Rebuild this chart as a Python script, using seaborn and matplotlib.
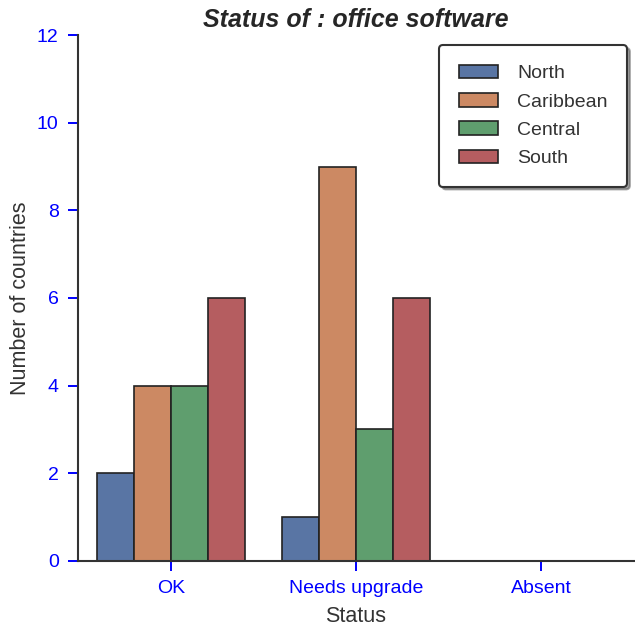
import pandas as pd
import matplotlib.pyplot as plt
import seaborn as sns

# data
statuses = ["OK", "Needs upgrade", "Absent"]
regions = ["North", "Caribbean", "Central", "South"]
north = [2, 1, 0]
caribbean = [4, 9, 0]
central = [4, 3, 0]
south = [6, 6, 0]

rows = []
for region, vals in zip(regions, [north, caribbean, central, south]):
    for status, v in zip(statuses, vals):
        rows.append({"Status": status, "Region": region, "Count": v})
df = pd.DataFrame(rows)

sns.set_style("ticks")
plt.rcParams['font.family'] = ['Liberation Sans', 'DejaVu Sans']

fig, ax = plt.subplots(figsize=(6.35, 6.28), dpi=100)
fig.subplots_adjust(left=0.123, right=0.998, bottom=0.107, top=0.944)

sns.barplot(data=df, x="Status", y="Count", hue="Region", order=statuses,
            hue_order=regions, palette="deep", edgecolor="#222222",
            linewidth=1.2, saturation=0.75, ax=ax)

ax.set_ylim(0, 12)
ax.set_yticks([0, 2, 4, 6, 8, 10, 12])
ax.set_title("Status of : office software", fontsize=18, fontweight="bold",
             fontstyle="italic", color="#262626", pad=6)
ax.set_xlabel("Status", fontsize=15.5, color="#333333", labelpad=6)
ax.set_ylabel("Number of countries", fontsize=15.5, color="#333333", labelpad=4)
ax.tick_params(axis="both", colors="blue", labelsize=14, length=7, width=1.4,
               pad=7)
for s in ["left", "bottom"]:
    ax.spines[s].set_color("#333333")
    ax.spines[s].set_linewidth(1.5)
sns.despine(ax=ax)

leg = ax.legend(loc="upper right", fontsize=14, frameon=True, shadow=True,
                borderpad=1.0, labelspacing=0.55, handlelength=2.0,
                handletextpad=1.0, borderaxespad=0,
                bbox_to_anchor=(0.988, 0.981))
leg.get_frame().set_edgecolor("#333333")
leg.get_frame().set_linewidth(1.5)
for t in leg.get_texts():
    t.set_color("#333333")

plt.savefig("out.png", dpi=100)
